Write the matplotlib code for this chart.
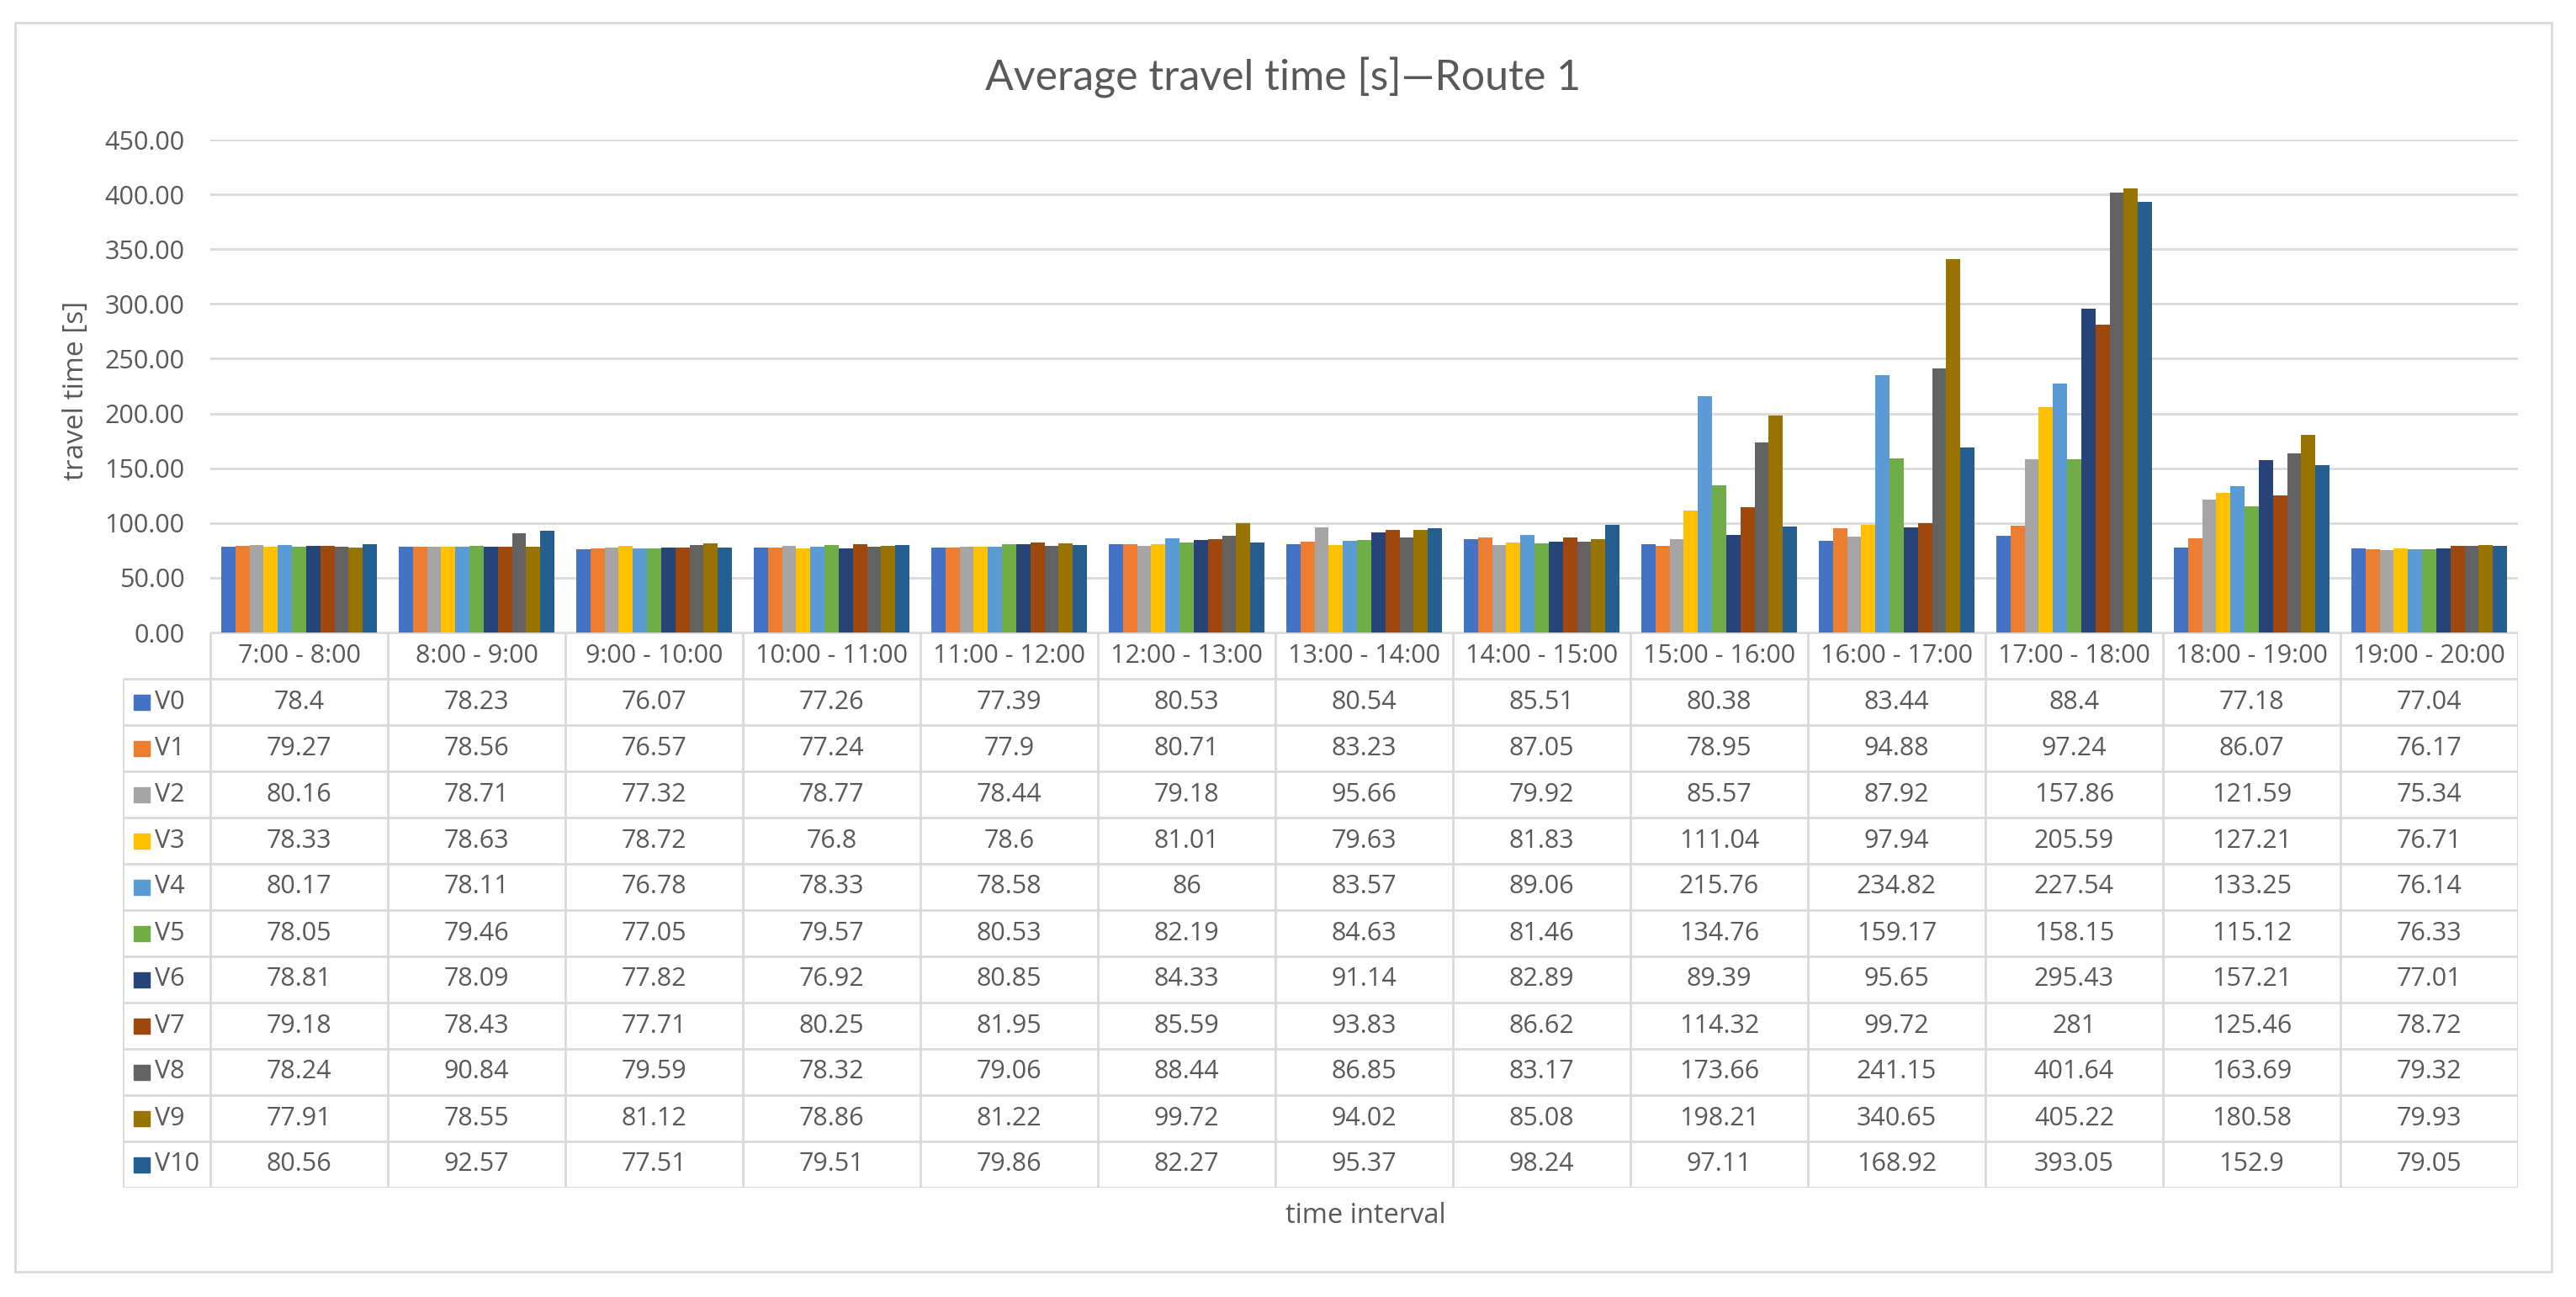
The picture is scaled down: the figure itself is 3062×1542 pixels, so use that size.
import matplotlib.pyplot as plt
import numpy as np
from matplotlib.patches import Rectangle
from matplotlib.ticker import StrMethodFormatter

intervals = ["7:00 - 8:00", "8:00 - 9:00", "9:00 - 10:00", "10:00 - 11:00",
             "11:00 - 12:00", "12:00 - 13:00", "13:00 - 14:00", "14:00 - 15:00",
             "15:00 - 16:00", "16:00 - 17:00", "17:00 - 18:00", "18:00 - 19:00",
             "19:00 - 20:00"]

v0 = [78.4, 78.23, 76.07, 77.26, 77.39, 80.53, 80.54, 85.51, 80.38, 83.44, 88.4, 77.18, 77.04]
v1 = [79.27, 78.56, 76.57, 77.24, 77.9, 80.71, 83.23, 87.05, 78.95, 94.88, 97.24, 86.07, 76.17]
v2 = [80.16, 78.71, 77.32, 78.77, 78.44, 79.18, 95.66, 79.92, 85.57, 87.92, 157.86, 121.59, 75.34]
v3 = [78.33, 78.63, 78.72, 76.8, 78.6, 81.01, 79.63, 81.83, 111.04, 97.94, 205.59, 127.21, 76.71]
v4 = [80.17, 78.11, 76.78, 78.33, 78.58, 86, 83.57, 89.06, 215.76, 234.82, 227.54, 133.25, 76.14]
v5 = [78.05, 79.46, 77.05, 79.57, 80.53, 82.19, 84.63, 81.46, 134.76, 159.17, 158.15, 115.12, 76.33]
v6 = [78.81, 78.09, 77.82, 76.92, 80.85, 84.33, 91.14, 82.89, 89.39, 95.65, 295.43, 157.21, 77.01]
v7 = [79.18, 78.43, 77.71, 80.25, 81.95, 85.59, 93.83, 86.62, 114.32, 99.72, 281, 125.46, 78.72]
v8 = [78.24, 90.84, 79.59, 78.32, 79.06, 88.44, 86.85, 83.17, 173.66, 241.15, 401.64, 163.69, 79.32]
v9 = [77.91, 78.55, 81.12, 78.86, 81.22, 99.72, 94.02, 85.08, 198.21, 340.65, 405.22, 180.58, 79.93]
v10 = [80.56, 92.57, 77.51, 79.51, 79.86, 82.27, 95.37, 98.24, 97.11, 168.92, 393.05, 152.9, 79.05]

series_names = ["V0", "V1", "V2", "V3", "V4", "V5", "V6", "V7", "V8", "V9", "V10"]
series = [v0, v1, v2, v3, v4, v5, v6, v7, v8, v9, v10]
colors = ["#4472C4", "#ED7D31", "#A5A5A5", "#FFC000", "#5B9BD5", "#70AD47",
          "#264478", "#9E480E", "#636363", "#997300", "#255E91"]

_text = "#595959"
_grid = "#D9D9D9"
_fs = 22

plt.rcParams["font.family"] = ["Open Sans", "DejaVu Sans"]

W, H = 3062, 1542
fig = plt.figure(figsize=(W / 100, H / 100), dpi=100)

# pixel layout
x_left, x_right = 250, 2993
leg_left = 146
y_top, y_zero = 166, 752
row_h = 55
n_rows = len(series) + 1
y_tab_bottom = y_zero + n_rows * row_h


def fx(px):
    return px / W


def fy(py):
    return 1 - py / H


# outer frame
fig.patches.append(Rectangle((fx(18), fy(1512)), fx(3033) - fx(18), fy(27) - fy(1512),
                             transform=fig.transFigure, fill=False,
                             edgecolor=_grid, linewidth=2))

ax = fig.add_axes([fx(x_left), fy(y_zero), fx(x_right) - fx(x_left), fy(y_top) - fy(y_zero)])
n_cat = len(intervals)
x = np.arange(n_cat)
n_ser = len(series)
bar_w = 0.877 / n_ser
for i, (name, vals) in enumerate(zip(series_names, series)):
    ax.bar(x - 0.877 / 2 + bar_w * (i + 0.5), vals, width=bar_w, color=colors[i],
           label=name, zorder=3)

ax.set_xlim(-0.5, n_cat - 0.5)
ax.set_ylim(0, 450)
ax.set_yticks(np.arange(0, 451, 50))
ax.yaxis.set_major_formatter(StrMethodFormatter("{x:.2f}"))
ax.set_xticks([])
ax.tick_params(axis="y", length=0, pad=22, labelsize=_fs, labelcolor=_text)
ax.grid(axis="y", color=_grid, linewidth=2, zorder=0)
for s in ax.spines.values():
    s.set_visible(False)

fig.text(fx(1525), fy(92), "Average travel time [s]\u2014Route 1", ha="center", va="center",
         fontsize=36, color=_text, family=["Lato", "DejaVu Sans"])
fig.text(fx(90), fy(464), "travel time [s]", rotation=90,
         ha="center", va="center", fontsize=24, color=_text)

# data table below the bars
tab = fig.add_axes([fx(leg_left), fy(y_tab_bottom), fx(x_right) - fx(leg_left),
                    fy(y_zero) - fy(y_tab_bottom)])
col_px = (x_right - x_left) / n_cat
leg_w = (x_left - leg_left) / col_px
tab.set_xlim(-0.5 - leg_w, n_cat - 0.5)
tab.set_ylim(n_rows, 0)
tab.axis("off")

lc = dict(color=_grid, linewidth=2, solid_capstyle="butt")
tab.plot([-0.5, n_cat - 0.5], [0, 0], **lc)
for r in range(1, n_rows + 1):
    tab.plot([-0.5 - leg_w, n_cat - 0.5], [r, r], **lc)
for c in range(n_cat + 1):
    tab.plot([c - 0.5, c - 0.5], [0, n_rows], **lc)
tab.plot([-0.5 - leg_w, -0.5 - leg_w], [1, n_rows], **lc)

for c, lab in enumerate(intervals):
    tab.text(c, 0.5, lab, ha="center", va="center", fontsize=_fs, color=_text)

mk_w = 19 / col_px
mk_h = 18 / row_h
for r, (name, vals) in enumerate(zip(series_names, series), start=1):
    tab.add_patch(Rectangle((-0.5 - leg_w + 13 / col_px, r + 0.5 - mk_h / 2), mk_w, mk_h,
                            color=colors[r - 1]))
    tab.text(-0.5 - leg_w + 38 / col_px, r + 0.5, name, ha="left", va="center",
             fontsize=_fs, color=_text)
    for c, v in enumerate(vals):
        tab.text(c, r + 0.5, f"{v:g}", ha="center", va="center", fontsize=_fs, color=_text)

fig.text(fx(1623), fy(1445), "time interval", ha="center", va="center",
         fontsize=23.5, color=_text)

fig.savefig("out.png", dpi=100, facecolor="white")
